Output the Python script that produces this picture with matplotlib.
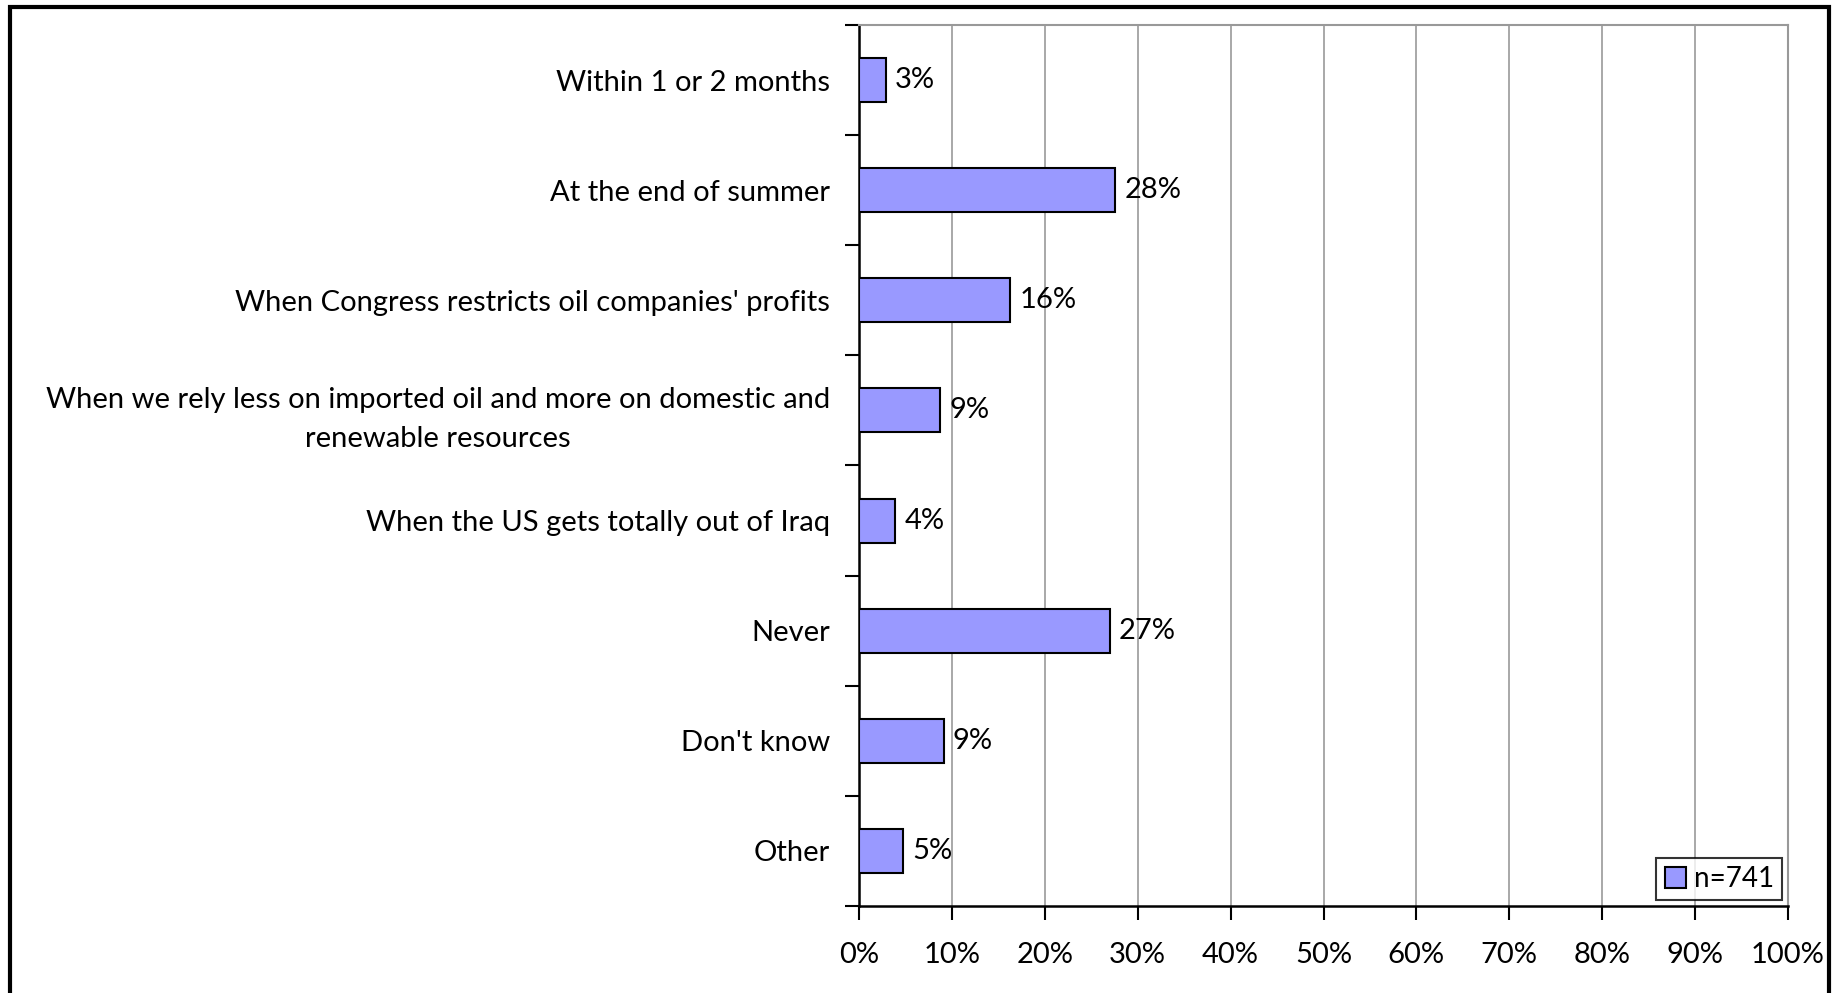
import numpy as np
import matplotlib.pyplot as plt
from matplotlib.patches import Rectangle

plt.rcParams['font.family'] = ['Lato', 'DejaVu Sans']

# Data
categories = [
    "Within 1 or 2 months",
    "At the end of summer",
    "When Congress restricts oil companies' profits",
    "When we rely less on imported oil and more on domestic and\nrenewable resources",
    "When the US gets totally out of Iraq",
    "Never",
    "Don't know",
    "Other",
]
values = [2.9, 27.6, 16.3, 8.7, 3.9, 27.0, 9.1, 4.7]
labels = ["3%", "28%", "16%", "9%", "4%", "27%", "9%", "5%"]
xticks = list(range(0, 101, 10))

fig = plt.figure(figsize=(18.37, 9.93), dpi=100)
ax = fig.add_axes([859 / 1837, 1 - 906 / 993, (1788 - 859) / 1837, (906 - 25) / 993])

y = np.arange(len(categories))
bars = ax.barh(y, values, height=0.4, color="#9999FF", edgecolor="black",
               linewidth=1.5, label="n=741", zorder=3)

for b, lab in zip(bars, labels):
    ax.text(b.get_width() + 1.0, b.get_y() + b.get_height() / 2, lab,
            va="center", ha="left", fontsize=21)

ax.set_xlim(0, 100)
ax.set_ylim(len(categories) - 0.5, -0.5)
ax.set_xticks(xticks)
ax.set_xticklabels([f"{t}%" for t in xticks], fontsize=21)

ax.set_yticks(y)
ax.set_yticklabels(categories, fontsize=21, multialignment="center", linespacing=1.6)
ax.set_yticks(np.arange(len(categories) + 1) - 0.5, minor=True)
ax.tick_params(axis="y", which="major", length=0, pad=21)
ax.tick_params(axis="y", which="minor", length=10, width=1.5, direction="out")
ax.tick_params(axis="x", length=10, width=1.5, direction="out", pad=16)

ax.grid(axis="x", color="#999999", linewidth=1.2, zorder=0)
for s in ["left", "bottom"]:
    ax.spines[s].set_linewidth(1.8)
    ax.spines[s].set_color("black")
for s in ["top", "right"]:
    ax.spines[s].set_color("#999999")
    ax.spines[s].set_linewidth(1.5)

leg = ax.legend(loc="lower right", fontsize=20, frameon=True, fancybox=False,
                handlelength=0.75, handleheight=0.75, handletextpad=0.3,
                borderpad=0.3, borderaxespad=0.2)
leg.get_frame().set_edgecolor("black")
leg.get_frame().set_linewidth(1.5)

# outer frame of the figure
fig.patches.append(Rectangle((10 / 1837, -0.05), (1829 - 10) / 1837, 1.05 - 7 / 993,
                             transform=fig.transFigure, fill=False,
                             edgecolor="black", linewidth=3))

fig.savefig("out.png", dpi=100)
